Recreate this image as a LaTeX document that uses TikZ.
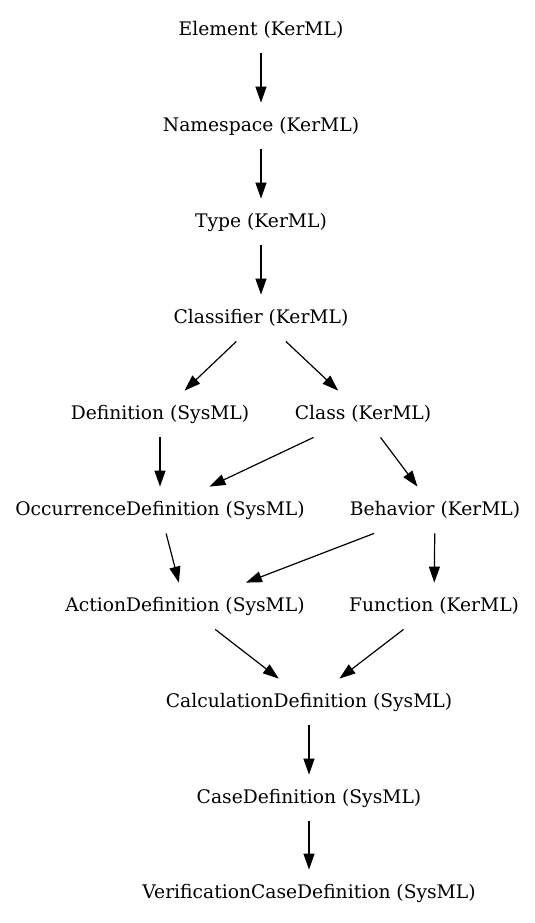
\documentclass[tikz,border=0pt]{standalone}
\usepackage{fontspec}
\setmainfont{DejaVu Serif}
\usetikzlibrary{arrows.meta}

\begin{document}
\begin{tikzpicture}[x=0.5pt, y=-0.5pt,
    cls/.style={rectangle, inner xsep=2pt, inner ysep=0pt, minimum height=23pt,
        font=\fontsize{9.35}{11}\selectfont},
    gen/.style={line width=0.6pt, -{Triangle[length=8pt, width=5.5pt]}}]
    \useasboundingbox (0,0) rectangle (535,923);

    \node[cls] (element) at (261, 30) {Element (KerML)};
    \node[cls] (namespace) at (261, 126) {Namespace (KerML)};
    \node[cls] (type) at (261, 222) {Type (KerML)};
    \node[cls] (classifier) at (261, 318) {Classifier (KerML)};
    \node[cls] (definition) at (160, 414) {Definition (SysML)};
    \node[cls] (class) at (363, 414) {Class (KerML)};
    \node[cls] (occdef) at (160, 510) {OccurrenceDefinition (SysML)};
    \node[cls] (behavior) at (435, 510) {Behavior (KerML)};
    \node[cls] (actiondef) at (185, 606) {ActionDefinition (SysML)};
    \node[cls] (function) at (434, 606) {Function (KerML)};
    \node[cls] (calcdef) at (309, 702) {CalculationDefinition (SysML)};
    \node[cls] (casedef) at (309, 798) {CaseDefinition (SysML)};
    \node[cls] (vcasedef) at (309, 893) {VerificationCaseDefinition (SysML)};

    \draw[gen] (element) -- (namespace); % element-namespace
    \draw[gen] (namespace) -- (type); % namespace-type
    \draw[gen] (type) -- (classifier); % type-classifier
    \draw[gen] (classifier) -- (definition); % classifier-definition
    \draw[gen] (classifier) -- (class); % classifier-class
    \draw[gen] (definition) -- (occdef); % definition-occdef
    \draw[gen] (class) -- (occdef); % class-occdef
    \draw[gen] (class) -- (behavior); % class-behavior
    \draw[gen] (occdef) -- (actiondef); % occdef-actiondef
    \draw[gen] (behavior) -- (actiondef); % behavior-actiondef
    \draw[gen] (behavior) -- (function); % behavior-function
    \draw[gen] (actiondef) -- (calcdef); % actiondef-calcdef
    \draw[gen] (function) -- (calcdef); % function-calcdef
    \draw[gen] (calcdef) -- (casedef); % calcdef-casedef
    \draw[gen] (casedef) -- (vcasedef); % casedef-vcasedef
\end{tikzpicture}
\end{document}
